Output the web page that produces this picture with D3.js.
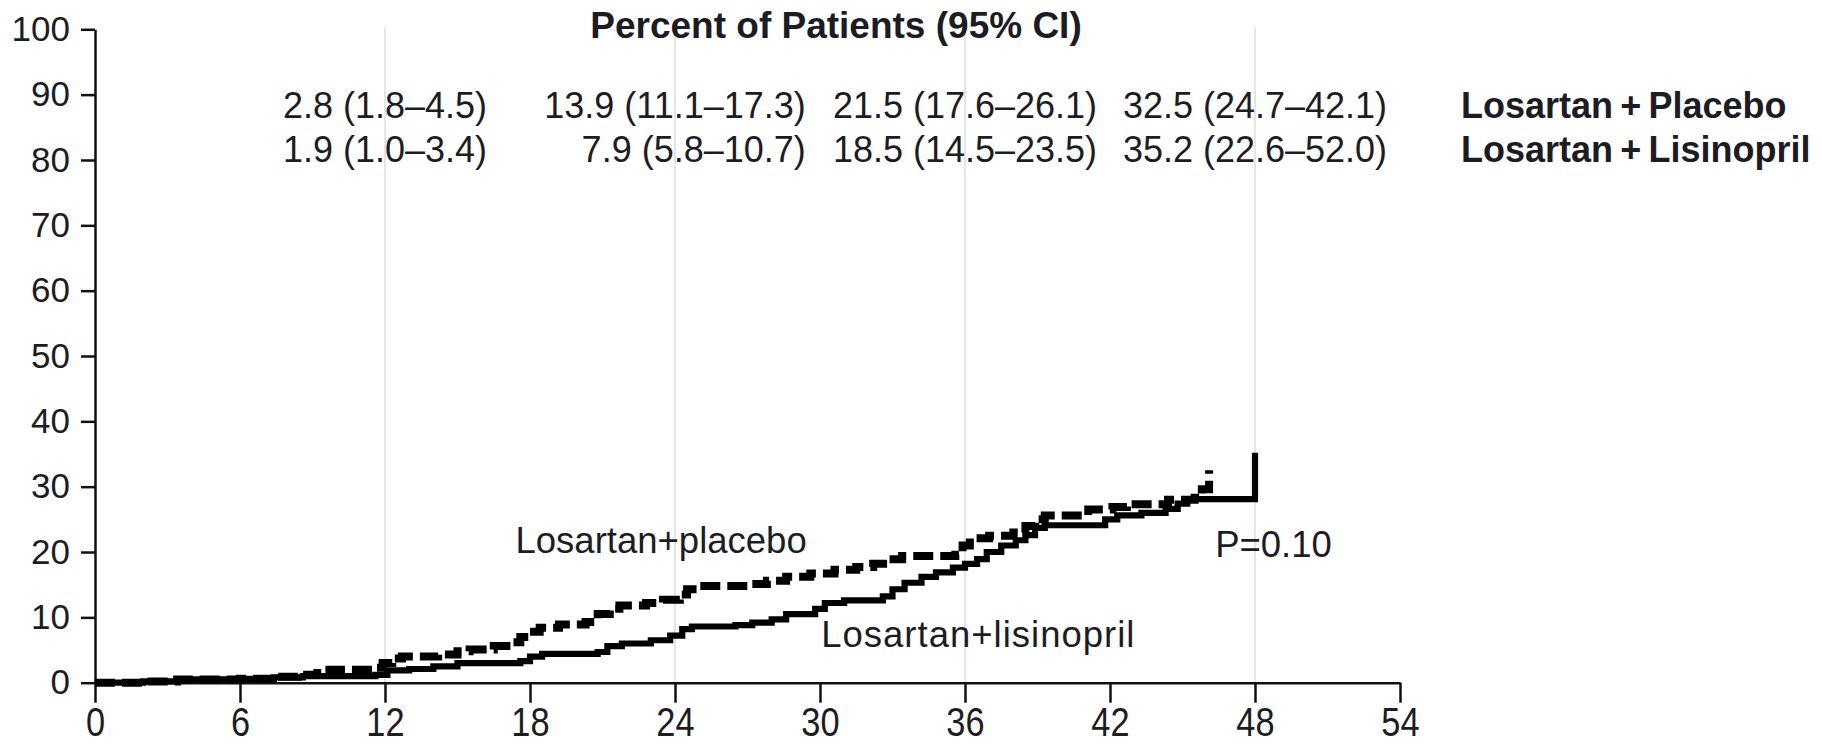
<!DOCTYPE html>
<html>
<head>
<meta charset="utf-8">
<script src="https://cdn.jsdelivr.net/npm/d3@7"></script>
<style>
  body { margin: 0; background: #ffffff; }
  svg { display: block; }
  text { font-family: "Liberation Sans", Arial, sans-serif; fill: #1c1c24; }
</style>
</head>
<body>
<svg id="chart" width="1822" height="745"></svg>
<script>
// Axis ticks
const monthTicks = [0, 6, 12, 18, 24, 30, 36, 42, 48, 54];
const percentTicks = [0, 10, 20, 30, 40, 50, 60, 70, 80, 90, 100];
const gridMonths = [12, 24, 36, 48];

// Cumulative incidence (%) by month, step curves: [month, percent]
const placeboCurve = [
  [0, 0], [2.0, 0.2], [3.4, 0.5], [6.0, 0.6], [7.4, 0.9], [8.4, 1.2], [9.2, 1.5],
  [9.7, 2.0], [11.5, 2.3], [11.9, 3.0], [12.3, 3.7], [12.7, 4.0], [14.2, 4.3],
  [15.0, 4.8], [15.5, 5.1], [16.5, 5.6], [17.2, 6.2], [17.6, 7.0], [18.0, 7.8],
  [18.4, 8.4], [19.2, 8.9], [20.3, 9.3], [20.8, 10.5], [21.3, 11.3], [21.7, 11.8],
  [22.8, 12.2], [23.5, 12.7], [24.2, 13.5], [24.5, 14.3], [25.0, 14.8], [27.2, 15.1],
  [27.8, 15.6], [28.6, 16.2], [29.6, 16.7], [30.6, 17.3], [31.5, 17.7], [32.2, 18.2],
  [32.8, 18.9], [33.4, 19.4], [35.6, 19.6], [35.9, 21.0], [36.2, 22.1], [37.0, 22.5],
  [38.0, 23.0], [38.5, 24.0], [38.9, 25.0], [39.3, 25.6], [41.1, 26.5], [42.1, 26.9],
  [42.7, 27.3], [44.4, 28.0], [45.5, 28.3], [45.8, 29.6], [46.1, 30.0], [46.1, 32.5]
];
const lisinoprilCurve = [
  [0, 0], [2.0, 0.2], [3.4, 0.5], [6.0, 0.6], [7.4, 0.8], [8.6, 1.0], [9.6, 1.0],
  [11.6, 1.2], [12.1, 1.9], [13.0, 2.1], [14.0, 2.5], [15.0, 3.0], [17.6, 3.3],
  [18.0, 4.0], [18.5, 4.4], [20.8, 4.7], [21.2, 5.6], [21.8, 6.0], [23.0, 6.5],
  [23.8, 7.2], [24.3, 8.2], [24.7, 8.6], [26.5, 8.8], [27.2, 9.2], [28.0, 9.7],
  [28.6, 10.5], [29.8, 11.3], [30.2, 12.2], [31.0, 12.6], [32.6, 13.2], [33.0, 14.3],
  [33.5, 15.3], [34.2, 16.2], [34.8, 16.9], [35.5, 17.6], [36.0, 18.2], [36.5, 18.9],
  [36.9, 20.0], [37.5, 21.0], [38.1, 21.8], [38.5, 22.6], [38.9, 23.7], [39.3, 24.1],
  [41.8, 25.0], [42.3, 25.6], [43.3, 26.0], [44.3, 26.6], [44.8, 27.4], [45.2, 28.1],
  [48.0, 28.1], [48.0, 35.2]
];

// Percent of patients (95% CI) at 12, 24, 36 and 48 months
const tableMonths = [12, 24, 36, 48];
const placeboRates = ["2.8 (1.8\u20134.5)", "13.9 (11.1\u201317.3)", "21.5 (17.6\u201326.1)", "32.5 (24.7\u201342.1)"];
const lisinoprilRates = ["1.9 (1.0\u20133.4)", "7.9 (5.8\u201310.7)", "18.5 (14.5\u201323.5)", "35.2 (22.6\u201352.0)"];
const groupNames = ["Losartan\u2009+\u2009Placebo", "Losartan\u2009+\u2009Lisinopril"];

const tableTitle = "Percent of Patients (95% CI)";
const pValueText = "P=0.10";

const svg = d3.select("#chart");
svg.append("rect").attr("width", 1822).attr("height", 745).attr("fill", "#ffffff");

const x = d3.scaleLinear().domain([0, 54]).range([95, 1400]);
const y = d3.scaleLinear().domain([0, 100]).range([682.7, 29.3]);

// Light vertical reference lines at yearly marks
svg.append("g").selectAll("line").data(gridMonths).join("line")
  .attr("x1", d => x(d)).attr("x2", d => x(d))
  .attr("y1", y(100) - 2).attr("y2", y(0))
  .attr("stroke", "#dcdcdc").attr("stroke-width", 1.5);

// Y axis
const yAxis = svg.append("g")
  .attr("transform", `translate(${x(0)},0)`)
  .call(d3.axisLeft(y).tickValues(percentTicks).tickSize(14).tickSizeOuter(0).tickPadding(11));
yAxis.select(".domain").attr("stroke", "#111").attr("stroke-width", 2.5);
yAxis.selectAll(".tick line").attr("stroke", "#111").attr("stroke-width", 2.5);
yAxis.selectAll(".tick text")
  .attr("font-size", 35).attr("font-family", "Liberation Sans, Arial, sans-serif")
  .attr("fill", "#1c1c24");

// X axis
const xAxis = svg.append("g")
  .attr("transform", `translate(0,${y(0)})`)
  .call(d3.axisBottom(x).tickValues(monthTicks).tickSize(20).tickSizeOuter(0));
xAxis.select(".domain").attr("stroke", "#111").attr("stroke-width", 2.5);
xAxis.selectAll(".tick line").attr("stroke", "#111").attr("stroke-width", 2.5);
xAxis.selectAll(".tick text")
  .attr("font-size", 40).attr("font-family", "Liberation Sans, Arial, sans-serif")
  .attr("fill", "#1c1c24")
  .attr("y", 53.5).attr("dy", 0)
  .attr("transform", "scale(0.86,1)");

// Step curves
const stepLine = d3.line()
  .x(d => x(d[0]))
  .y(d => y(d[1]))
  .curve(d3.curveStepAfter);

svg.append("path").datum(lisinoprilCurve)
  .attr("d", stepLine).attr("fill", "none")
  .attr("stroke", "#000").attr("stroke-width", 6.2)
  .attr("stroke-linejoin", "miter");

svg.append("path").datum(placeboCurve)
  .attr("d", stepLine).attr("fill", "none")
  .attr("stroke", "#000").attr("stroke-width", 8)
  .attr("stroke-dasharray", "20,7");

// Curve labels
svg.append("text").attr("x", x(17.4)).attr("y", y(19.9))
  .attr("font-size", 36.5).text("Losartan+placebo");
svg.append("text").attr("x", x(30.05)).attr("y", y(5.5))
  .attr("font-size", 36.5).attr("letter-spacing", 1).text("Losartan+lisinopril");
svg.append("text").attr("x", x(46.35)).attr("y", y(19.3))
  .attr("font-size", 36.5).text(pValueText);

// Table of rates
svg.append("text").attr("x", 836).attr("y", 38)
  .attr("text-anchor", "middle").attr("font-size", 37).attr("font-weight", "bold")
  .text(tableTitle);

const rowBaselines = [118, 162];
const rows = [placeboRates, lisinoprilRates];
const table = svg.append("g");
const cells = [];
rows.forEach((vals, r) => {
  vals.forEach((v, c) => {
    const t = table.append("text")
      .attr("y", rowBaselines[r]).attr("font-size", 36)
      .attr("text-anchor", "end").text(v);
    cells.push({ t, c });
  });
});
// Right-align each column, centered on its month mark by its widest entry
tableMonths.forEach((m, c) => {
  const colCells = cells.filter(d => d.c === c);
  const w = d3.max(colCells, d => d.t.node().getComputedTextLength());
  colCells.forEach(d => d.t.attr("x", x(m) + w / 2));
});

groupNames.forEach((name, r) => {
  svg.append("text").attr("x", 1461).attr("y", rowBaselines[r])
    .attr("font-size", 36).attr("font-weight", "bold").text(name);
});
</script>
</body>
</html>
